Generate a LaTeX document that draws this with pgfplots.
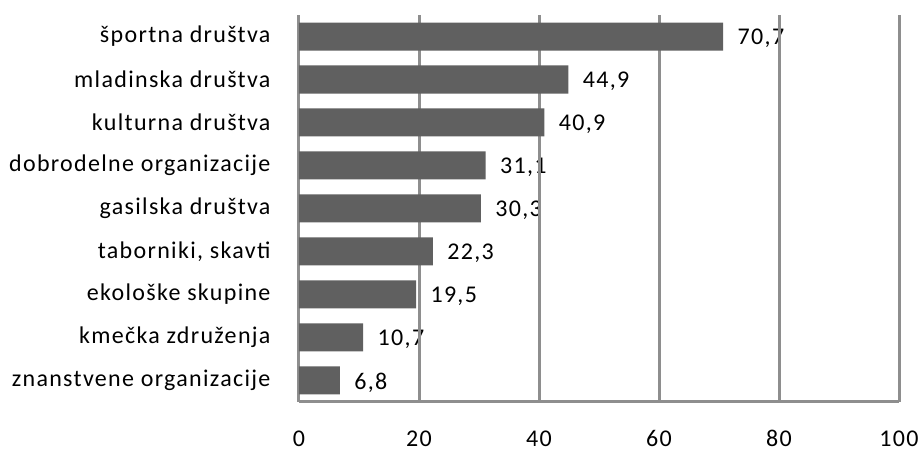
\documentclass[border=0pt]{standalone}
\usepackage{pgfplots}
\pgfplotsset{compat=1.18}
\usepackage{fontspec}
\setmainfont{Carlito}[LetterSpace=5.5]
\definecolor{barc}{HTML}{606060}
\definecolor{gridc}{HTML}{8E8E8E}
\pgfplotsset{
  common/.style={
    at={(299pt,50pt)}, anchor=south west,
    scale only axis, width=600pt, height=387pt,
    xmin=0, xmax=100, ymin=-0.5, ymax=8.5,
    font=\fontsize{24}{28}\selectfont,
    xbar, bar width=28pt,
    clip=false,
  }
}
\begin{document}
\begin{tikzpicture}
\useasboundingbox (0,0) rectangle (919pt,452pt);
% layer 1: value labels (drawn beneath the gridlines, as in the reference)
\begin{axis}[common, hide axis,
  nodes near coords,
  point meta=x,
  nodes near coords style={black, xshift=11pt, yshift=-2pt, /pgf/number format/.cd, use comma, fixed, fixed zerofill, precision=1, assume math mode=true},
]
\addplot[draw=none, fill=none] coordinates {
(6.8,0) (10.7,1) (19.5,2) (22.3,3) (30.3,4) (31.1,5) (40.9,6) (44.9,7) (70.7,8)};
\end{axis}
% layer 2: grid, axes and bars
\begin{axis}[common,
  xtick={0,20,40,60,80,100},
  ytick={0,...,8},
  yticklabels={znanstvene organizacije,kmečka združenja,ekološke skupine,taborniki{,} skavti,gasilska društva,dobrodelne organizacije,kulturna društva,mladinska društva,športna društva},
  axis x line=bottom, axis y line=left,
  axis line style={gridc, line width=3pt, -},
  xmajorgrids, major grid style={gridc, line width=3pt},
  major tick length=0pt,
  tick style={draw=none},
  /pgf/number format/assume math mode=true,
  xticklabel style={anchor=base, inner sep=0pt, text depth=0pt, yshift=-45pt},
  yticklabel style={xshift=-25pt},
]
\addplot[draw=none, fill=barc] coordinates {
(6.8,0) (10.7,1) (19.5,2) (22.3,3) (30.3,4) (31.1,5) (40.9,6) (44.9,7) (70.7,8)};
\end{axis}
\end{tikzpicture}
\end{document}
